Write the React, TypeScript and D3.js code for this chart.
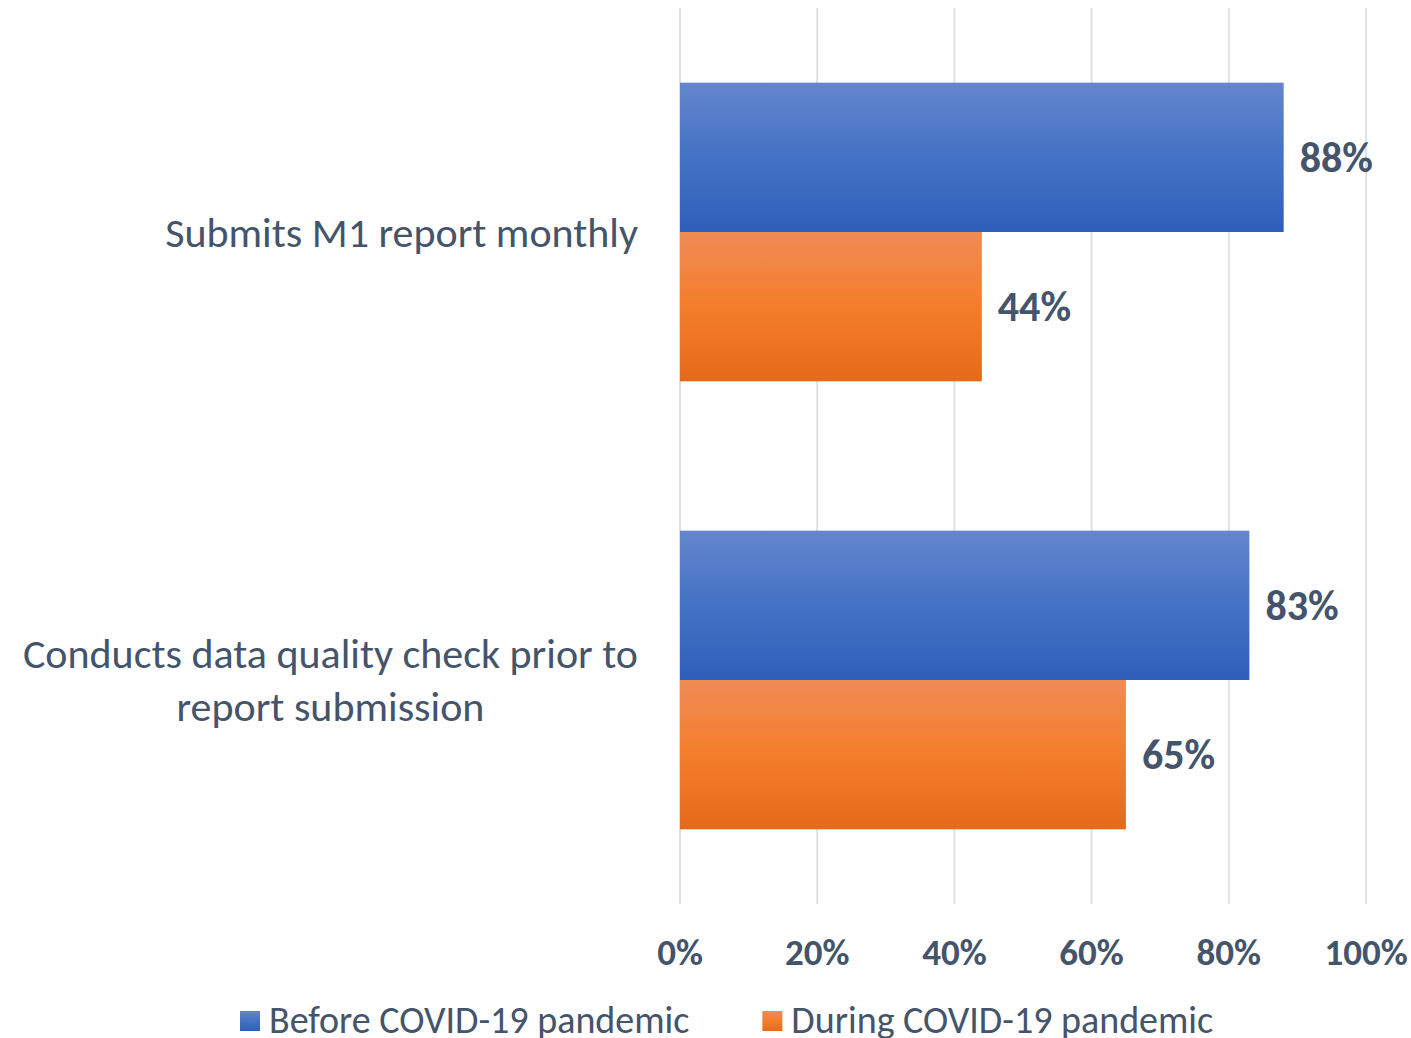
import React, { useEffect, useRef } from "react";
import * as d3 from "d3";

const categories: string[][] = [
  ["Submits M1 report monthly"],
  ["Conducts data quality check prior to", "report submission"],
];
const seriesNames = ["Before COVID-19 pandemic", "During COVID-19 pandemic"];
const beforeValues = [0.88, 0.83];
const duringValues = [0.44, 0.65];
const tickValues = [0, 0.2, 0.4, 0.6, 0.8, 1.0];

const W = 1411;
const H = 1038;
const FONT = "Carlito, Lato, 'Open Sans', sans-serif";
const TEXT = "#44546a";

export default function App() {
  const ref = useRef<SVGSVGElement>(null);

  useEffect(() => {
    const svg = d3.select(ref.current);
    svg.selectAll("*").remove();

    const defs = svg.append("defs");
    const grads = [
      { id: "gBlue", stops: ["#6585cd", "#4472c4", "#2e5fb9"] },
      { id: "gOrange", stops: ["#f08c56", "#f47d2b", "#e36a19"] },
    ];
    grads.forEach((g) => {
      const lg = defs
        .append("linearGradient")
        .attr("id", g.id)
        .attr("x1", 0)
        .attr("y1", 0)
        .attr("x2", 0)
        .attr("y2", 1);
      g.stops.forEach((c, i) =>
        lg.append("stop").attr("offset", `${i * 50}%`).attr("stop-color", c)
      );
    });

    const x = d3.scaleLinear().domain([0, 1]).range([680, 1366]);
    const y = d3
      .scaleBand<number>()
      .domain(categories.map((_, i) => i))
      .range([8, 904])
      .paddingInner(1 / 3)
      .paddingOuter(1 / 6);
    const sub = d3
      .scaleBand<number>()
      .domain([0, 1])
      .range([0, y.bandwidth()]);

    // gridlines
    svg
      .append("g")
      .selectAll("line")
      .data(tickValues)
      .join("line")
      .attr("x1", (d) => x(d))
      .attr("x2", (d) => x(d))
      .attr("y1", 8)
      .attr("y2", 904)
      .attr("stroke", "#dde1e8")
      .attr("stroke-width", 2);

    // tick labels
    svg
      .append("g")
      .selectAll("text")
      .data(tickValues)
      .join("text")
      .attr("x", (d) => x(d))
      .attr("y", 952)
      .attr("text-anchor", "middle")
      .attr("dominant-baseline", "central")
      .attr("font-family", FONT)
      .attr("font-weight", "bold")
      .attr("font-size", 37)
      .attr("fill", TEXT)
      .text((d) => d3.format(".0%")(d));

    const series = [
      { vals: beforeValues, fill: "url(#gBlue)" },
      { vals: duringValues, fill: "url(#gOrange)" },
    ];

    series.forEach((s, si) => {
      const g = svg.append("g");
      g.selectAll("rect")
        .data(s.vals)
        .join("rect")
        .attr("x", x(0))
        .attr("y", (_, i) => (y(i) as number) + (sub(si) as number))
        .attr("width", (d) => x(d) - x(0))
        .attr("height", sub.bandwidth())
        .attr("fill", s.fill);
      g.selectAll("text")
        .data(s.vals)
        .join("text")
        .attr("x", (d) => x(d) + 16)
        .attr("y", (_, i) => (y(i) as number) + (sub(si) as number) + sub.bandwidth() / 2)
        .attr("dominant-baseline", "central")
        .attr("font-family", FONT)
        .attr("font-weight", "bold")
        .attr("font-size", 42)
        .attr("fill", TEXT)
        .text((d) => d3.format(".0%")(d));
    });

    // category labels
    const lineH = 53;
    categories.forEach((lines, i) => {
      const cy = (y(i) as number) + y.bandwidth() / 2;
      const g = svg.append("g");
      const texts = lines.map((l, li) =>
        g
          .append("text")
          .attr("y", cy + (li - (lines.length - 1) / 2) * lineH)
          .attr("dominant-baseline", "central")
          .attr("text-anchor", "middle")
          .attr("font-family", FONT)
          .attr("font-size", 42)
          .attr("fill", TEXT)
          .text(l)
      );
      const maxW = d3.max(texts, (t) => (t.node() as SVGTextElement).getComputedTextLength()) || 0;
      texts.forEach((t) => t.attr("x", 638 - maxW / 2));
    });

    // legend
    const legendFills = ["url(#gBlue)", "url(#gOrange)"];
    const lg = svg.append("g");
    const items = seriesNames.map((name, i) => {
      const gi = lg.append("g");
      gi.append("rect").attr("width", 20).attr("height", 20).attr("y", 1011).attr("fill", legendFills[i]);
      const t = gi
        .append("text")
        .attr("x", 29)
        .attr("y", 1020)
        .attr("dominant-baseline", "central")
        .attr("font-family", FONT)
        .attr("font-size", 38)
        .attr("fill", TEXT)
        .text(name);
      const w = 29 + (t.node() as SVGTextElement).getComputedTextLength();
      return { gi, w };
    });
    const gap = 73;
    let cx = 240;
    items.forEach((it) => {
      it.gi.attr("transform", `translate(${cx},0)`);
      cx += it.w + gap;
    });
  }, []);

  return (
    <svg
      ref={ref}
      width={W}
      height={H}
      style={{ position: "absolute", left: 0, top: 0, background: "#fff" }}
    />
  );
}
